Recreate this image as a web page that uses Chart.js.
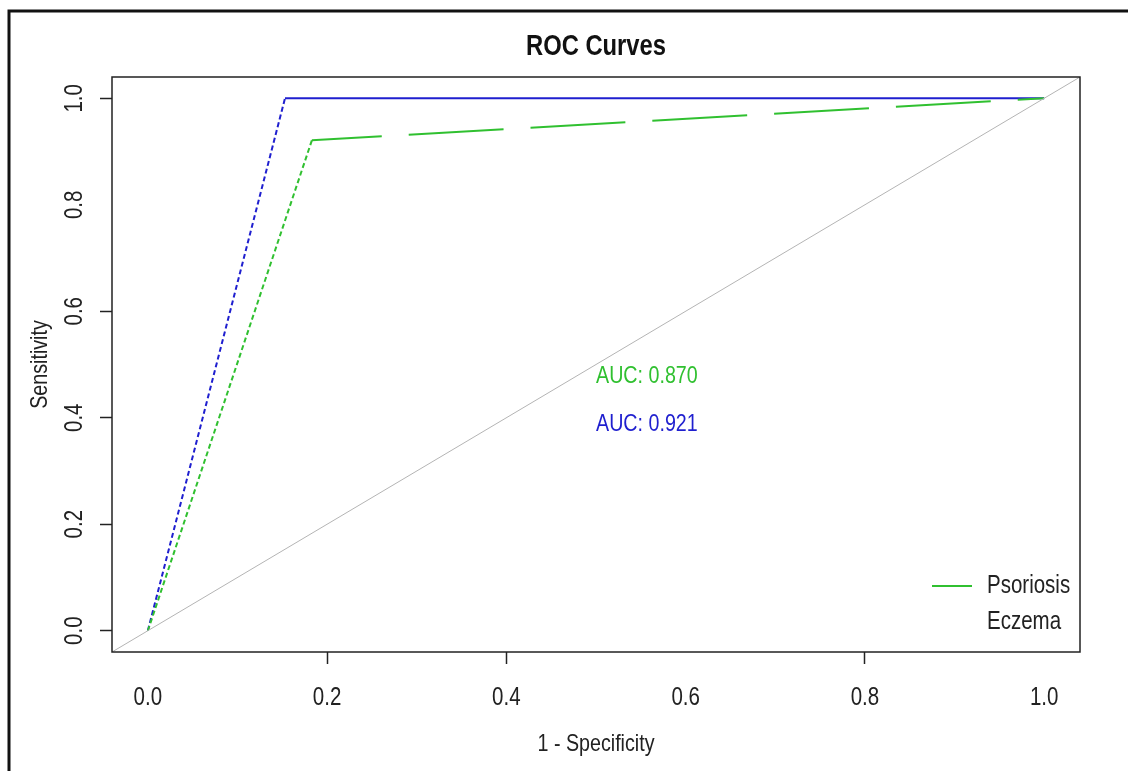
<!DOCTYPE html>
<html>
<head>
<meta charset="utf-8">
<script src="https://cdn.jsdelivr.net/npm/chart.js@4.4.0/dist/chart.umd.min.js"></script>
<style>
  html, body { margin: 0; padding: 0; background: #fff; }
  canvas { display: block; }
</style>
</head>
<body>
<canvas id="roc" width="1128" height="771"></canvas>
<script>
// ROC values
const psoriasisFpr = [0, 0.183, 1];
const psoriasisTpr = [0, 0.921, 1];
const eczemaFpr = [0, 0.153, 1];
const eczemaTpr = [0, 1, 1];
const chanceLine = [-0.04, 1.04];

const seriesNames = ['Psoriosis', 'Eczema'];
const seriesColors = ['#30c030', '#1f1fcf'];
const aucLabels = ['AUC: 0.870', 'AUC: 0.921'];
const aucX = [0.5, 0.5];
const aucY = [0.477, 0.388];

const xTickValues = [0, 0.2, 0.4, 0.6, 0.8, 1.0];
const yTickValues = [0, 0.2, 0.4, 0.6, 0.8, 1.0];
const xTickMarks = [0.2, 0.4, 0.8];
const yTickMarks = [0, 0.2, 0.4, 0.6, 1.0];

const FONT = "'Liberation Sans', Arial, sans-serif";
const INK = '#222';

const pts = (xs, ys) => xs.map((x, i) => ({ x, y: ys[i] }));

// the R device used a narrow face, so squeeze text horizontally
function narrowText(ctx, txt, x, y, { size = 25, weight = '', align = 'center', rot = 0, color = INK } = {}) {
  ctx.save();
  ctx.translate(x, y);
  ctx.rotate(rot);
  ctx.scale(0.82, 1);
  ctx.font = `${weight} ${size}px ${FONT}`;
  ctx.textAlign = align;
  ctx.textBaseline = 'middle';
  ctx.fillStyle = color;
  ctx.fillText(txt, 0, 0);
  ctx.restore();
}

const rDecor = {
  id: 'rDecor',
  afterDraw(chart) {
    const { ctx, chartArea: a, scales } = chart;
    const cx = (a.left + a.right) / 2, cy = (a.top + a.bottom) / 2;
    ctx.save();

    // outer frame
    ctx.strokeStyle = '#111';
    ctx.lineWidth = 3;
    ctx.beginPath();
    ctx.moveTo(9, 771); ctx.lineTo(9, 11); ctx.lineTo(1128, 11);
    ctx.stroke();

    // plot box
    ctx.lineWidth = 1.5;
    ctx.strokeStyle = '#222';
    ctx.strokeRect(a.left, a.top, a.right - a.left, a.bottom - a.top);
    ctx.restore();

    narrowText(ctx, 'ROC Curves', cx, 47, { size: 29, weight: 'bold', color: '#111' });
    xTickValues.forEach((v) => narrowText(ctx, v.toFixed(1), scales.x.getPixelForValue(v), 698));
    yTickValues.forEach((v) => narrowText(ctx, v.toFixed(1), 75, scales.y.getPixelForValue(v), { rot: -Math.PI / 2 }));
    narrowText(ctx, '1 - Specificity', cx, 744, { size: 24 });
    narrowText(ctx, 'Sensitivity', 40, cy, { size: 24, rot: -Math.PI / 2 });

    aucLabels.forEach((txt, i) => narrowText(ctx, txt, scales.x.getPixelForValue(aucX[i]), scales.y.getPixelForValue(aucY[i]),
      { size: 24, align: 'left', color: seriesColors[i] }));

    // legend, bottomright
    const lx = a.right - 148, ty = a.bottom - 66;
    ctx.save();
    ctx.strokeStyle = seriesColors[0];
    ctx.lineWidth = 2;
    ctx.beginPath();
    ctx.moveTo(lx, ty); ctx.lineTo(lx + 40, ty);
    ctx.stroke();
    ctx.restore();
    seriesNames.forEach((n, i) => narrowText(ctx, n, lx + 55, ty + i * 36, { align: 'left' }));
  },
};

// dash phase runs from the start of the path, not the segment
const dashFirst = (rest, offset = 0) => ({
  borderDash: (c) => (c.p0DataIndex === 0 ? [5, 3] : rest),
  borderDashOffset: (c) => (c.p0DataIndex === 0 ? 0 : offset),
});

new Chart(document.getElementById('roc'), {
  type: 'line',
  data: {
    datasets: [
      { label: 'chance', data: pts(chanceLine, chanceLine), borderColor: '#b4b4b4', borderWidth: 1 },
      { label: seriesNames[0], data: pts(psoriasisFpr, psoriasisTpr), borderColor: seriesColors[0], borderWidth: 2, segment: dashFirst([95, 27], 25) },
      { label: seriesNames[1], data: pts(eczemaFpr, eczemaTpr), borderColor: seriesColors[1], borderWidth: 2, segment: dashFirst([]) },
    ],
  },
  options: {
    responsive: false,
    animation: false,
    devicePixelRatio: 1,
    elements: { point: { radius: 0 }, line: { tension: 0 } },
    layout: { padding: { left: 0, top: 77, right: 48, bottom: 0 } },
    plugins: {
      legend: { display: false },
      tooltip: { enabled: false },
      title: { display: false },
    },
    scales: {
      x: {
        type: 'linear',
        min: -0.04,
        max: 1.04,
        afterBuildTicks: (s) => { s.ticks = xTickValues.map((v) => ({ value: v })); },
        afterFit: (s) => { s.height = 119; },
        ticks: { display: false },
        grid: { drawOnChartArea: false, tickLength: 12, tickWidth: 1.5, tickColor: (c) => (xTickMarks.includes(c.tick?.value) ? '#222' : 'rgba(0,0,0,0)') },
        border: { display: false },
      },
      y: {
        type: 'linear',
        min: -0.04,
        max: 1.04,
        afterBuildTicks: (s) => { s.ticks = yTickValues.map((v) => ({ value: v })); },
        afterFit: (s) => { s.width = 112; },
        ticks: { display: false },
        grid: { drawOnChartArea: false, tickLength: 12, tickWidth: 1.5, tickColor: (c) => (yTickMarks.includes(c.tick?.value) ? '#222' : 'rgba(0,0,0,0)') },
        border: { display: false },
      },
    },
  },
  plugins: [rDecor],
});
</script>
</body>
</html>
